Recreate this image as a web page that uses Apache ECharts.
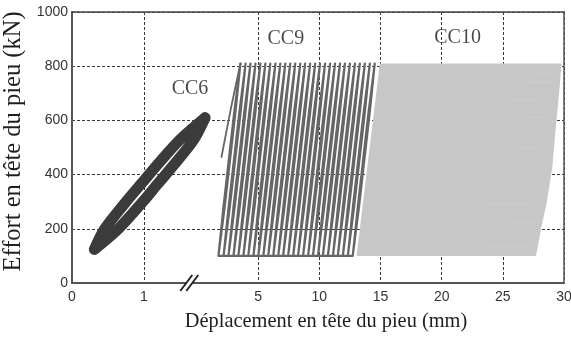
<!DOCTYPE html>
<html>
<head>
<meta charset="utf-8">
<script src="https://cdn.jsdelivr.net/npm/echarts@6/dist/echarts.min.js"></script>
<style>
  html, body { margin: 0; padding: 0; background: #fff; }
  #chart { width: 571px; height: 339px; }
</style>
</head>
<body>
<div id="chart"></div>
<script>
// Pile-head load vs displacement: cyclic series CC6, CC9, CC10.
// The displacement axis is broken: 0–1 mm expanded, then 5–30 mm compressed.

const yTicks = [0, 200, 400, 600, 800, 1000];
const xTicksLeft = [0, 1];                      // mm, expanded part
const xTicksRight = [5, 10, 15, 20, 25, 30];    // mm, compressed part
const xBreak = 1.63;                            // mm, on the expanded part

// CC6 (expanded scale): one closed loop, [mm, kN]
const cc6Loop = [
  [0.31, 124], [0.645, 200], [0.985, 300], [1.195, 367], [1.46, 450], [1.695, 530],
  [1.85, 610],
  [1.505, 530], [1.23, 450], [0.965, 367], [0.752, 300], [0.455, 200], [0.31, 124]
];

// CC9 (compressed scale): displacement at 100 kN at the start of each cycle, mm
const cc9Starts = [
  1.75, 2.17, 2.57, 2.98, 3.38, 3.79, 4.19, 4.61, 5.01, 5.42, 5.82, 6.23, 6.64, 7.04,
  7.45, 7.86, 8.26, 8.67, 9.08, 9.48, 9.89, 10.29, 10.70, 11.11, 11.51, 11.92, 12.33, 12.73
];
// shape of one CC9 cycle, relative displacement [mm, kN]
const cc9Cycle = [
  [0, 100], [0.51, 280], [0.95, 455], [1.39, 630], [1.80, 810],
  [1.29, 630], [0.85, 455], [0.41, 280], [0, 100]
];
// first loading branch of CC9
const cc9FirstLoading = [[2.0, 465], [2.75, 640], [3.55, 810]];

// CC10 (compressed scale): outline of the dense band of cycles, [mm, kN]
const cc10Outline = [
  [13.04, 100], [14.94, 810], [29.80, 810], [29.60, 700], [29.30, 560],
  [29.05, 430], [28.60, 300], [28.15, 207], [27.80, 120], [27.70, 100]
];
// lighter streaks inside CC10: [mm from, mm to, kN]
const cc10Streaks = [
  [27.5, 29.3, 778], [27.0, 29.0, 741], [25.8, 28.0, 675], [26.8, 28.8, 612],
  [26.0, 27.8, 501], [23.4, 27.0, 294], [25.7, 27.6, 225], [23.8, 27.4, 135]
];

// series names placed on the plot: [text, scale, mm, kN]
const seriesNames = [
  ['CC6', 'left', 1.64, 717],
  ['CC9', 'right', 7.26, 902],
  ['CC10', 'right', 21.3, 904]
];

// axis position units for the broken scale
const leftU = x => 72 * x;
const rightU = x => 125.1 + 12.24 * x;
const xMax = rightU(30);

const tickValues = xTicksLeft.map(leftU).concat(xTicksRight.map(rightU));
const tickText = {};
xTicksLeft.forEach(t => { tickText[leftU(t).toFixed(3)] = String(t); });
xTicksRight.forEach(t => { tickText[rightU(t).toFixed(3)] = String(t); });

const cc6Data = cc6Loop.map(p => [leftU(p[0]), p[1]]);
const cc9Data = [];
cc9Starts.forEach(b => cc9Cycle.forEach(p => cc9Data.push([rightU(b + p[0]), p[1]])));
const cc9FirstData = cc9FirstLoading.map(p => [rightU(p[0]), p[1]]);

const streakData = [];
cc10Streaks.forEach(s => {
  streakData.push([rightU(s[0]), s[2]], [rightU(s[1]), s[2]], null);
});

const labelData = seriesNames.map(n => ({
  name: n[0],
  value: [n[1] === 'left' ? leftU(n[2]) : rightU(n[2]), n[3]]
}));

const gridLine = { show: true, lineStyle: { color: '#3a3a3a', width: 1, type: [3, 2] } };
const tickFont = { fontFamily: 'Liberation Sans', fontSize: 14, color: '#333' };
const titleFont = { fontFamily: 'Liberation Serif', color: '#1e1e1e' };

const chart = echarts.init(document.getElementById('chart'), null, { renderer: 'canvas' });

chart.setOption({
  animation: false,
  backgroundColor: '#fff',
  grid: { left: 72, right: 7, top: 12, bottom: 56, containLabel: false, outerBoundsMode: 'none' },
  xAxis: [{
    type: 'value', min: 0, max: xMax, position: 'bottom',
    name: 'Déplacement en tête du pieu (mm)', nameLocation: 'middle', nameGap: 29,
    nameTextStyle: Object.assign({ fontSize: 20.4, padding: [0, 0, 0, 16] }, titleFont),
    axisLine: { show: true, lineStyle: { color: '#555', width: 2 } },
    axisTick: { show: false, customValues: tickValues },
    axisLabel: Object.assign({
      customValues: tickValues, margin: 7, hideOverlap: false,
      formatter: v => tickText[Number(v).toFixed(3)] || ''
    }, tickFont),
    splitLine: gridLine
  }, {
    type: 'value', min: 0, max: xMax, position: 'top',
    axisLine: { show: true, onZero: false, lineStyle: { color: '#444', width: 1.5 } },
    axisTick: { show: false }, axisLabel: { show: false }, splitLine: { show: false }
  }],
  yAxis: [{
    type: 'value', min: 0, max: 1000, interval: 200,
    name: 'Effort en tête du pieu (kN)', nameLocation: 'middle', nameGap: 38,
    nameTextStyle: Object.assign({ fontSize: 24.5, padding: [0, 0, 0, 12] }, titleFont),
    axisLine: { show: true, lineStyle: { color: '#555', width: 2 } },
    axisTick: { show: false },
    axisLabel: Object.assign({ margin: 4, formatter: v => String(v) }, tickFont),
    splitLine: gridLine
  }, {
    type: 'value', min: 0, max: 1000, position: 'right',
    axisLine: { show: true, onZero: false, lineStyle: { color: '#555', width: 1.5 } },
    axisTick: { show: false }, axisLabel: { show: false }, splitLine: { show: false }
  }],
  series: [
    {
      name: 'CC10', type: 'custom', silent: true,
      data: cc10Outline.map(p => [rightU(p[0]), p[1]]),
      renderItem: (params, api) => {
        if (params.dataIndex !== 0) return null;
        const pts = cc10Outline.map(p => api.coord([rightU(p[0]), p[1]]));
        return { type: 'polygon', shape: { points: pts }, style: { fill: '#c7c7c7' } };
      }
    },
    {
      name: 'CC10 streaks', type: 'line', data: streakData, showSymbol: false, silent: true,
      connectNulls: false,
      lineStyle: { color: '#d4d4d4', width: 1, type: [2, 2] }
    },
    {
      name: 'CC9', type: 'line', data: cc9Data, showSymbol: false, silent: true,
      lineStyle: { color: '#666', width: 2.2, join: 'round', cap: 'round' }
    },
    {
      name: 'CC9 first loading', type: 'line', data: cc9FirstData, showSymbol: false, silent: true,
      lineStyle: { color: '#666', width: 1.8, cap: 'round' }
    },
    {
      name: 'CC6', type: 'line', data: cc6Data, showSymbol: false, silent: true, smooth: 0.3,
      lineStyle: { color: '#3b3b3b', width: 11, join: 'round', cap: 'round' }
    },
    {
      name: 'labels', type: 'scatter', data: labelData, symbolSize: 0, silent: true,
      label: {
        show: true, position: 'inside', formatter: p => p.name,
        fontFamily: 'Liberation Serif', fontSize: 20, color: '#1a1a1a'
      }
    }
  ]
});

// axis break mark on the displacement axis
const bp = chart.convertToPixel({ xAxisIndex: 0, yAxisIndex: 0 }, [leftU(xBreak), 0]);
chart.setOption({
  graphic: [
    { type: 'rect', z: 100, shape: { x: bp[0] - 3, y: bp[1] - 2, width: 6, height: 4 },
      style: { fill: '#fff' } },
    { type: 'line', z: 101, shape: { x1: bp[0] - 9, y1: bp[1] + 8, x2: bp[0] + 3, y2: bp[1] - 8 },
      style: { stroke: '#222', lineWidth: 2 } },
    { type: 'line', z: 101, shape: { x1: bp[0] - 3, y1: bp[1] + 8, x2: bp[0] + 9, y2: bp[1] - 8 },
      style: { stroke: '#222', lineWidth: 2 } }
  ]
});
</script>
</body>
</html>
